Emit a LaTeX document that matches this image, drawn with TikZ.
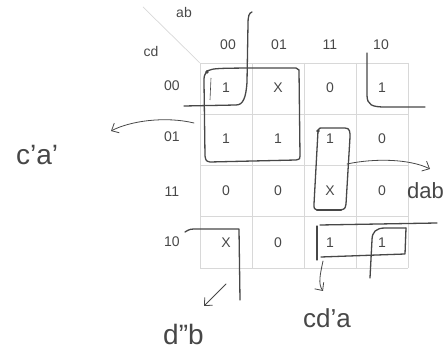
\documentclass[tikz,border=0pt]{standalone}
\usepackage{fontspec}
\setmainfont{Liberation Sans}
\usepackage{tikz}
\usetikzlibrary{arrows.meta}
\definecolor{ink}    {HTML}{484848}
\definecolor{pencil} {HTML}{474747}
\definecolor{gridLt} {HTML}{D8D8D8}

\begin{document}
\begin{tikzpicture}[
  x=1pt, y=-1pt,
  every node/.style={inner sep=0pt},
  lbl/.style={font=\fontsize{14}{16}\selectfont, text=ink},
  val/.style={font=\fontsize{14}{16}\selectfont, text=ink},
  gridln/.style={draw=gridLt, line width=0.7pt},
  hand/.style={draw=pencil, line width=1.3pt, line cap=round, line join=round},
  handtip/.style={draw=pencil, line width=0.8pt, line cap=round,
                  -{Straight Barb[length=6pt,width=11pt]}},
  note/.style={text=pencil, font=\fontsize{#1}{#1}\selectfont, anchor=base west}
]
\useasboundingbox (0,0) rectangle (447,352);
% map grid
\foreach \i in {0,...,4} {
  \draw[gridln] (200+52*\i,63) -- (200+52*\i,268);
  \draw[gridln] (200,63+51.25*\i) -- (408,63+51.25*\i);
}
\draw[gridln] (143,7) -- (200,63);
% variable names and headers
\node[lbl] (vab) at (184,13) {ab};
\node[lbl] (vcd) at (151,52) {cd};
\node[lbl] (h1) at (228,45) {00};
\node[lbl] (h2) at (279,45) {01};
\node[lbl] (h3) at (330,45) {11};
\node[lbl] (h4) at (381,45) {10};
\node[lbl] (r1) at (172,86) {00};
\node[lbl] (r2) at (172,137) {01};
\node[lbl] (r3) at (172,192) {11};
\node[lbl] (r4) at (172,242) {10};
% cell values
\node[val] (k11) at (226,88) {1};
\node[val] (k12) at (278,88) {X};
\node[val] (k13) at (330,88) {0};
\node[val] (k14) at (382,88) {1};
\node[val] (k21) at (226,139) {1};
\node[val] (k22) at (278,139) {1};
\node[val] (k23) at (330,139) {1};
\node[val] (k24) at (382,139) {0};
\node[val] (k31) at (226,191) {0};
\node[val] (k32) at (278,191) {0};
\node[val] (k33) at (330,191) {X};
\node[val] (k34) at (382,191) {0};
\node[val] (k41) at (226,243) {X};
\node[val] (k42) at (278,243) {0};
\node[val] (k43) at (330,243) {1};
\node[val] (k44) at (382,243) {1};
% hand drawn groups
\draw[hand] (252,12) .. controls (249,13) and (248,16) .. (248,24) -- (247,82)
  .. controls (246,98) and (243,105) .. (236,105) -- (184,106);
\draw[hand] (207,71) .. controls (214,68) .. (296,68) -- (299,70) -- (300,156)
  .. controls (300,159) .. (296,160) -- (210,162) .. controls (206,161) .. (205,156)
  -- (204,82) .. controls (204,76) .. (207,71);
\draw[pencil, line width=0.6pt] (211,78) -- (210,100);
\fill[pencil] (207,72) circle (1.8);
\draw[hand] (318,131) .. controls (319,128) .. (323,128) -- (345,128)
  .. controls (350,128) and (350,132) .. (350,137) -- (346,204)
  .. controls (345,209) .. (340,210) -- (318,210) .. controls (314,209) .. (314,204)
  -- (318,131);
\draw[pencil, line width=2.2pt, line cap=round] (317,210) -- (341,210);
\fill[pencil] (318,131) circle (1.8);
\draw[hand] (367,53) -- (367,95) .. controls (367,105) and (372,107) .. (385,107) -- (425,107);
\draw[hand] (185,232) .. controls (190,229) .. (198,229) -- (239,229) -- (240,300);
\draw[hand] (317,226) -- (317,260);
\draw[hand] (320,225) -- (437,223);
\draw[hand] (321,257) -- (405,254) -- (406,228);
\draw[hand] (370,278) -- (372,240) .. controls (372,232) and (376,228) .. (385,228) -- (406,228);
% labels and their arrows
\node[note=28] (lca) at (16,165) {c'a'};
\node[note=22] (ldab) at (407,199) {dab};
\node[note=28] (ldb) at (163,345) {d''b};
\node[note=26] (lcda) at (303,328) {cd'a};
\coordinate (caS) at (194,123);
\coordinate (caE) at (111,131);
\draw[handtip] (caS) .. controls (165,116) and (130,121) .. (caE);
\coordinate (dabS) at (347,164);
\coordinate (dabE) at (430,169);
\draw[handtip] (dabS) .. controls (375,158) and (410,159) .. (dabE);
\coordinate (cdaS) at (323,261);
\coordinate (cdaE) at (323,291);
\draw[handtip] (cdaS) .. controls (320,275) and (318,284) .. (cdaE);
\coordinate (dbS) at (226,284);
\coordinate (dbE) at (204,306);
\draw[handtip] (dbS) -- (dbE);
\end{tikzpicture}
\end{document}
